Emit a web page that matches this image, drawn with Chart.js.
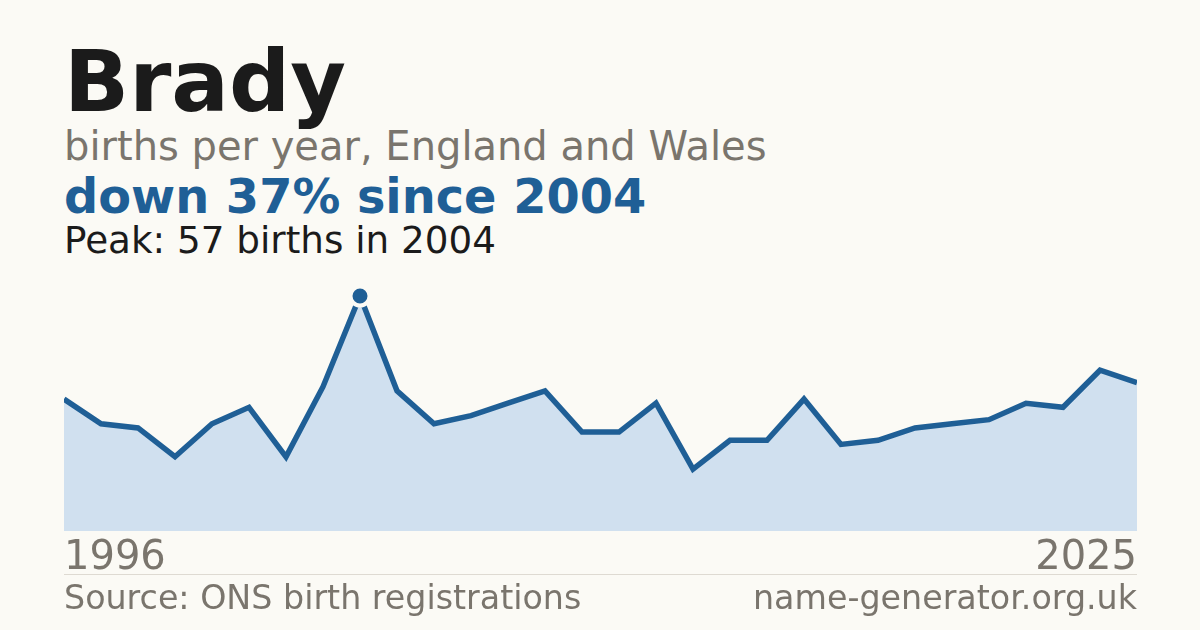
<!DOCTYPE html>
<html>
<head>
<meta charset="utf-8">
<script src="https://cdn.jsdelivr.net/npm/chart.js@4"></script>
<style>
  html, body { margin: 0; padding: 0; }
  body { width: 1200px; height: 630px; background: #fbfaf5; position: relative; overflow: hidden; font-family: "DejaVu Sans", sans-serif; }
  .t { position: absolute; left: 64px; white-space: nowrap; line-height: 1; }
  #title { top: 39px; font-size: 85.5px; font-weight: bold; color: #1b1b1b; }
  #sub { top: 126px; font-size: 40px; color: #7a756d; }
  #head { top: 173px; font-size: 47.8px; font-weight: bold; color: #1f5f96; }
  #peak { top: 222px; font-size: 37.3px; color: #1b1b1b; }
  #sep { position: absolute; left: 64px; width: 1073px; top: 574px; height: 1px; background: #dedad2; }
  .foot { position: absolute; top: 581px; font-size: 33.3px; color: #7a756d; line-height: 1; white-space: nowrap; }
  #src { left: 64px; }
  #site { right: 63px; }
  #wrap { position: absolute; left: 0; top: 0; width: 1200px; height: 587px; }
</style>
</head>
<body>
<div class="t" id="title">Brady</div>
<div class="t" id="sub">births per year, England and Wales</div>
<div class="t" id="head">down 37% since 2004</div>
<div class="t" id="peak">Peak: 57 births in 2004</div>
<div id="wrap"><canvas id="c"></canvas></div>
<div id="sep"></div>
<div class="foot" id="src">Source: ONS birth registrations</div>
<div class="foot" id="site">name-generator.org.uk</div>
<script>
const years = [1996,1997,1998,1999,2000,2001,2002,2003,2004,2005,2006,2007,2008,2009,2010,
               2011,2012,2013,2014,2015,2016,2017,2018,2019,2020,2021,2022,2023,2024,2025];
const births = [32,26,25,18,26,30,18,35,57,34,26,28,31,34,24,
                24,31,15,22,22,32,21,22,25,26,27,31,30,39,36];
const tickLabels = ["1996", "2025"];
const peakYear = 2004;

const peakIndex = years.indexOf(peakYear);
const lineColor = '#1f5f96';
const bg = '#fbfaf5';

new Chart(document.getElementById('c'), {
  type: 'line',
  data: {
    labels: years.map(String),
    datasets: [{
      data: births,
      borderColor: lineColor,
      borderWidth: 5.5,
      backgroundColor: '#d0e0ef',
      fill: 'origin',
      tension: 0,
      clip: { left: 0, right: 0, top: false, bottom: 0 },
      pointRadius: ctx => ctx.dataIndex === peakIndex ? 9.5 : 0,
      pointHoverRadius: ctx => ctx.dataIndex === peakIndex ? 9.5 : 0,
      pointBackgroundColor: lineColor,
      pointBorderColor: bg,
      pointBorderWidth: 4
    }]
  },
  options: {
    responsive: true,
    maintainAspectRatio: false,
    animation: false,
    events: [],
    layout: { padding: { left: 64, right: 63, top: 296, bottom: 0 } },
    plugins: { legend: { display: false }, tooltip: { enabled: false } },
    scales: {
      x: {
        offset: false,
        grid: { display: false, drawTicks: false, tickLength: 0 },
        border: { display: false },
        ticks: {
          autoSkip: false,
          maxRotation: 0,
          minRotation: 0,
          align: 'inner',
          padding: 4,
          color: '#7a756d',
          font: { family: 'DejaVu Sans', size: 40 },
          callback: (v, i) => i === 0 ? tickLabels[0] : (i === years.length - 1 ? tickLabels[1] : '')
        }
      },
      y: {
        display: false,
        min: 0,
        max: Math.max(...births)
      }
    }
  }
});
</script>
</body>
</html>
